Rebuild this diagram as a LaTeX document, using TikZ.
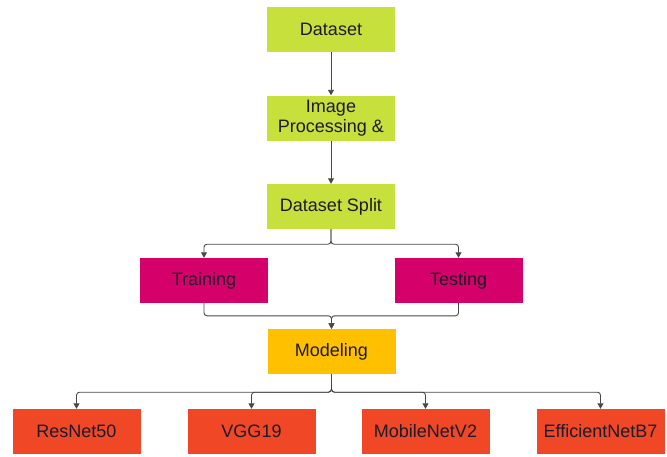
\documentclass[tikz,border=0pt]{standalone}
\usepackage{fontspec}
\setmainfont{Liberation Sans}
\usetikzlibrary{arrows.meta}
\definecolor{limebox}{HTML}{C8E03C}
\definecolor{magbox}{HTML}{D6006A}
\definecolor{amberbox}{HTML}{FFC000}
\definecolor{redbox}{HTML}{F04826}
\definecolor{linegray}{HTML}{474747}
\definecolor{inkdark}{HTML}{1E1A2A}
\tikzset{
  box/.style={rectangle, minimum width=128pt, minimum height=45pt, inner sep=2pt,
    text=inkdark, font=\fontsize{18}{20.5}\selectfont, align=center},
  limestep/.style={box, fill=limebox},
  splitstep/.style={box, fill=magbox},
  modelstep/.style={box, fill=amberbox},
  netstep/.style={box, fill=redbox},
  conn/.style={draw=linegray, line width=0.9pt, rounded corners=3pt,
    -{Triangle[length=5.5pt,width=6pt]}}
}
\begin{document}
\begin{tikzpicture}[x=1pt,y=-1pt]
\useasboundingbox (0,0) rectangle (667,456);
% pipeline stages
\node[limestep] (data) at (331,29.5) {Dataset};
\node[limestep] (proc) at (331,118) {Image\\Processing \&};
\node[limestep] (split) at (331,206.5) {Dataset Split};
\node[splitstep] (train) at (204,280.5) {Training};
\node[splitstep] (test) at (458.5,280.5) {Testing};
\node[modelstep] (model) at (331.5,351.5) {Modeling};
% candidate networks
\node[netstep] (res) at (76.5,431.5) {ResNet50};
\node[netstep] (vgg) at (251.5,431.5) {VGG19};
\node[netstep] (mob) at (425.5,431.5) {MobileNetV2};
\node[netstep] (eff) at (600.5,431.5) {EfficientNetB7};
% connectors
\coordinate (merge) at ([yshift=13pt]model.north);
\draw[conn] (data.south) -- (proc.north);
\draw[conn] (proc.south) -- (split.north);
\draw[conn] (split.south) -- ++(0,15) -| (train.north);
\draw[conn] (split.south) -- ++(0,15) -| (test.north);
\draw[conn] (train.south) |- (merge) -- (model.north);
\draw[conn] (test.south) |- (merge) -- (model.north);
\foreach \n in {res,vgg,mob,eff}
  \draw[conn] (model.south) -- ++(0,18) -| (\n.north);
\end{tikzpicture}
\end{document}
